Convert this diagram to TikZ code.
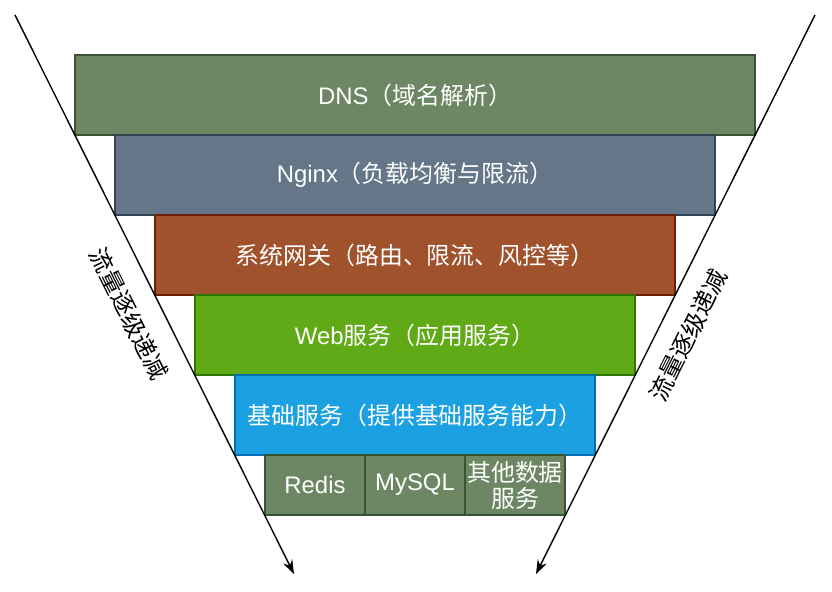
\documentclass[tikz,border=0pt]{standalone}
\usepackage{fontspec}
\setmainfont{Liberation Sans}
\newfontfamily\zhfont{Noto Sans CJK SC}
\usetikzlibrary{arrows.meta}

\definecolor{greenfill}{HTML}{6D8764}
\definecolor{greenline}{HTML}{3A5431}
\definecolor{slatefill}{HTML}{647687}
\definecolor{slateline}{HTML}{314354}
\definecolor{brownfill}{HTML}{A0522D}
\definecolor{brownline}{HTML}{6D1F00}
\definecolor{limefill}{HTML}{60A917}
\definecolor{limeline}{HTML}{2D7600}
\definecolor{bluefill}{HTML}{1BA1E2}
\definecolor{blueline}{HTML}{006EAF}

\begin{document}
\begin{tikzpicture}[x=1bp, y=-1bp,
	layer/.style={draw, line width=1.5bp, text=white, minimum height=80bp, inner sep=0pt, font=\fontsize{24}{28}\selectfont},
	store/.style={layer, fill=greenfill, draw=greenline, minimum width=100bp, minimum height=60bp, align=center, font=\fontsize{24}{26}\selectfont},
	flow/.style={line width=1.4bp, -{Stealth[length=14bp, width=10bp]}},
	flowtext/.style={font=\zhfont\fontsize{24}{28}\selectfont}]
	\useasboundingbox (0,0) rectangle (832,592);
		\node [layer, fill=greenfill, draw=greenline, minimum width=680bp] (dns) at (415, 95) {DNS\zhfont（域名解析）};
		\node [layer, fill=slatefill, draw=slateline, minimum width=600bp] (nginx) at (415, 175) {Nginx\zhfont（负载均衡与限流）};
		\node [layer, fill=brownfill, draw=brownline, minimum width=520bp] (gateway) at (415, 255) {\zhfont 系统网关（路由、限流、风控等）};
		\node [layer, fill=limefill, draw=limeline, minimum width=440bp] (web) at (415, 335) {Web\zhfont 服务（应用服务）};
		\node [layer, fill=bluefill, draw=blueline, minimum width=360bp] (base) at (415, 415) {\zhfont 基础服务（提供基础服务能力）};
		\node [store] (redis) at (315, 485) {Redis};
		\node [store] (mysql) at (415, 485) {MySQL};
		\node [store] (other) at (515, 485) {\zhfont 其他数据\\\zhfont 服务};
		\coordinate (ltop) at (15, 15);
		\coordinate (lend) at (294, 574);
		\coordinate (rtop) at (815, 15);
		\coordinate (rend) at (536, 574);
		\draw [flow] (ltop) -- (lend);
		\draw [flow] (rtop) -- (rend);
		\node [flowtext, rotate=-63.5] (lefttext) at (129, 314) {流量逐级递减};
		\node [flowtext, rotate=63.5] (righttext) at (688, 335) {流量逐级递减};
	\end{tikzpicture}
\end{document}
